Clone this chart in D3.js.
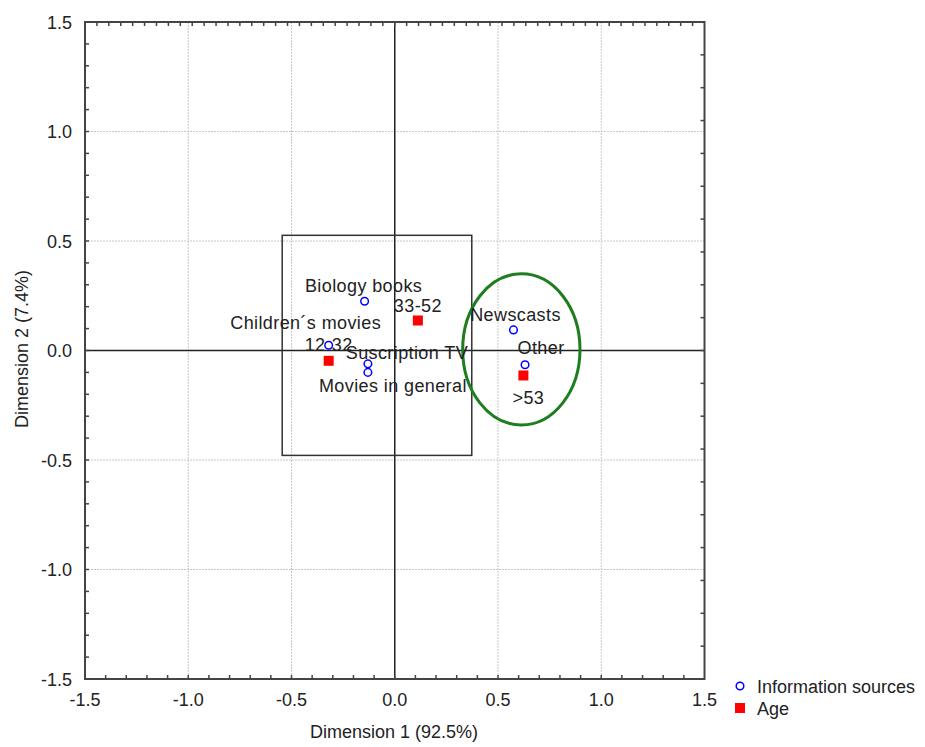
<!DOCTYPE html>
<html>
<head>
<meta charset="utf-8">
<script src="https://cdn.jsdelivr.net/npm/d3@7"></script>
<style>
  body { margin: 0; background: #fff; }
  svg text { font-family: "Liberation Sans", Arial, sans-serif; fill: #222; }
</style>
</head>
<body>
<svg id="chart" width="925" height="747"></svg>
<script>
// Correspondence analysis: information sources vs. age groups
const sourceNames = ["Biology books", "Children\u00b4s movies", "Suscription TV", "Movies in general", "Newscasts", "Other"];
const sourceDim1  = [-0.146, -0.32, -0.13, -0.13, 0.575, 0.631];
const sourceDim2  = [0.225, 0.024, -0.061, -0.100, 0.094, -0.065];

const ageNames = ["33-52", "12-32", ">53"];
const ageDim1  = [0.112, -0.32, 0.623];
const ageDim2  = [0.137, -0.047, -0.114];

const tickValues = [-1.5, -1.0, -0.5, 0.0, 0.5, 1.0, 1.5];
const xTitle = "Dimension 1 (92.5%)";
const yTitle = "Dimension 2 (7.4%)";
const legendLabels = ["Information sources", "Age"];

// Highlighted regions (data units)
const boxX = [-0.545, 0.373];
const boxY = [-0.479, 0.526];
const ellipseCenter = [0.613, 0.005];
const ellipseRadii = [0.284, 0.345];

const svg = d3.select("#chart");
const L = 85, R = 704.5, T = 22, B = 679;
const x = d3.scaleLinear().domain([-1.5, 1.5]).range([L, R]);
const y = d3.scaleLinear().domain([-1.5, 1.5]).range([B, T]);

// dotted grid
const grid = svg.append("g").attr("stroke", "#c8c8c8").attr("stroke-width", 1).attr("stroke-dasharray", "2,1");
tickValues.filter(v => v !== 0 && Math.abs(v) !== 1.5).forEach(v => {
  grid.append("line").attr("x1", x(v)).attr("x2", x(v)).attr("y1", T).attr("y2", B);
  grid.append("line").attr("y1", y(v)).attr("y2", y(v)).attr("x1", L).attr("x2", R);
});

// zero reference lines
svg.append("line").attr("x1", x(0)).attr("x2", x(0)).attr("y1", T).attr("y2", B)
  .attr("stroke", "#222").attr("stroke-width", 1.5);
svg.append("line").attr("y1", y(0)).attr("y2", y(0)).attr("x1", L).attr("x2", R)
  .attr("stroke", "#222").attr("stroke-width", 1.5);

// frame with inward minor ticks
const frame = svg.append("g").attr("stroke", "#444");
frame.append("rect").attr("x", L).attr("y", T).attr("width", R - L).attr("height", B - T)
  .attr("fill", "none").attr("stroke-width", 2);
const tk = frame.append("g").attr("stroke-width", 1.5);
d3.range(-1.4, 1.45, 0.1).forEach(v => {
  tk.append("line").attr("x1", x(v)).attr("x2", x(v)).attr("y1", B).attr("y2", B - 4);
  tk.append("line").attr("y1", y(v)).attr("y2", y(v)).attr("x1", L).attr("x2", L + 4);
});
d3.range(1, 52).forEach(i => {
  const px = L + i * (R - L) / 52;
  tk.append("line").attr("x1", px).attr("x2", px).attr("y1", T).attr("y2", T + 4);
});
d3.range(1, 20).forEach(i => {
  const py = T + i * (B - T) / 20;
  tk.append("line").attr("y1", py).attr("y2", py).attr("x1", R).attr("x2", R - 4);
});

// tick labels
const fmt = d3.format(".1f");
svg.append("g").selectAll("text").data(tickValues).join("text")
  .attr("x", d => x(d)).attr("y", B + 27).attr("text-anchor", "middle")
  .attr("font-size", 18).text(d => fmt(d).replace("\u2212", "-"));
svg.append("g").selectAll("text").data(tickValues).join("text")
  .attr("x", 72).attr("y", d => y(d) + 6.5).attr("text-anchor", "end")
  .attr("font-size", 18).text(d => fmt(d).replace("\u2212", "-"));

// axis titles
svg.append("text").attr("x", 394).attr("y", 738).attr("text-anchor", "middle")
  .attr("font-size", 18).text(xTitle);
svg.append("text").attr("transform", "translate(28,349) rotate(-90)").attr("text-anchor", "middle")
  .attr("font-size", 18).text(yTitle);

// highlight box and ellipse
svg.append("rect").attr("x", x(boxX[0])).attr("y", y(boxY[1]))
  .attr("width", x(boxX[1]) - x(boxX[0])).attr("height", y(boxY[0]) - y(boxY[1]))
  .attr("fill", "none").attr("stroke", "#333").attr("stroke-width", 1.5);
svg.append("ellipse").attr("cx", x(ellipseCenter[0])).attr("cy", y(ellipseCenter[1]))
  .attr("rx", x(ellipseRadii[0]) - x(0)).attr("ry", y(0) - y(ellipseRadii[1]))
  .attr("fill", "none").attr("stroke", "#1e7d1e").attr("stroke-width", 3);

// label placement relative to each point [dx, dy of baseline]
const labelShift = {
  "Biology books": [-1, -9],
  "Children\u00b4s movies": [-23, -16],
  "Suscription TV": [39, -5],
  "Movies in general": [25, 20],
  "Newscasts": [2, -9],
  "Other": [16, -11],
  "33-52": [0, -8],
  "12-32": [0, -10],
  ">53": [5, 29]
};

const sources = sourceNames.map((n, i) => ({ name: n, d1: sourceDim1[i], d2: sourceDim2[i] }));
const ages = ageNames.map((n, i) => ({ name: n, d1: ageDim1[i], d2: ageDim2[i] }));

const labels = svg.append("g").attr("font-size", 18).attr("text-anchor", "middle");
sources.concat(ages).forEach(d => {
  const s = labelShift[d.name];
  labels.append("text").attr("x", x(d.d1) + s[0]).attr("y", y(d.d2) + s[1])
    .attr("letter-spacing", 0.4).text(d.name);
});

svg.append("g").selectAll("circle").data(sources).join("circle")
  .attr("cx", d => x(d.d1)).attr("cy", d => y(d.d2)).attr("r", 3.8)
  .attr("fill", "#fff").attr("stroke", "#0000ff").attr("stroke-width", 1.5);
svg.append("g").selectAll("rect").data(ages).join("rect")
  .attr("x", d => x(d.d1) - 5).attr("y", d => y(d.d2) - 5).attr("width", 10).attr("height", 10)
  .attr("fill", "#ff0000");

// legend
const lg = svg.append("g");
lg.append("circle").attr("cx", 740).attr("cy", 686).attr("r", 3.8)
  .attr("fill", "#fff").attr("stroke", "#0000ff").attr("stroke-width", 1.5);
lg.append("rect").attr("x", 735).attr("y", 703).attr("width", 10).attr("height", 10).attr("fill", "#ff0000");
lg.selectAll("text").data(legendLabels).join("text")
  .attr("x", 757).attr("y", (d, i) => 693 + i * 22).attr("font-size", 18).text(d => d);
</script>
</body>
</html>
